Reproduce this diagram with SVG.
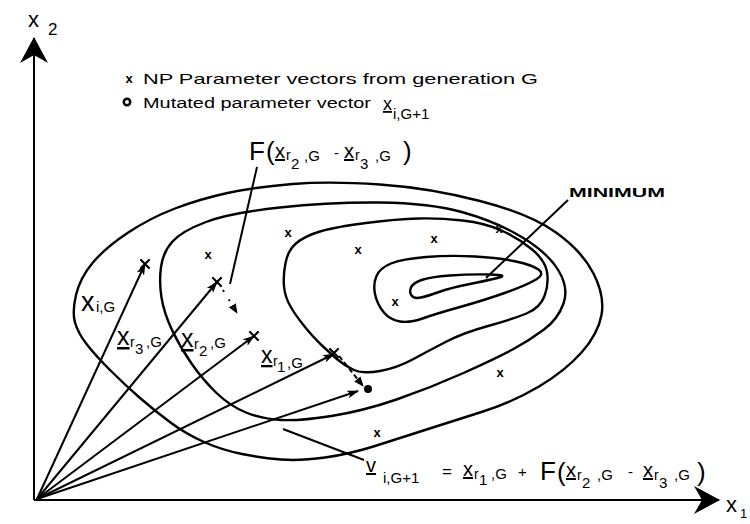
<svg xmlns="http://www.w3.org/2000/svg" width="750" height="524" viewBox="0 0 750 524">
<defs>
<style>
.t{font-family:"Liberation Sans",Arial,Helvetica,sans-serif;fill:#000}
.c{fill:none;stroke:#000;stroke-width:2.4;stroke-linejoin:round}
.v{fill:none;stroke:#000;stroke-width:2;marker-end:url(#ah)}
.l{fill:none;stroke:#000;stroke-width:2}
.k{fill:none;stroke:#000;stroke-width:2.2;stroke-linecap:round}
.m{font-family:"Liberation Sans",Arial,sans-serif;font-weight:bold;font-size:13px;text-anchor:middle;fill:#000}
.u{text-decoration:underline}
.b{font-size:26px}
.x{font-size:20px}
.r{font-size:14px}
.s{font-size:15px}
</style>
<marker id="ah" viewBox="0 0 12 8" refX="11" refY="4" markerWidth="12" markerHeight="8" markerUnits="userSpaceOnUse" orient="auto"><path d="M0,0 L12,4 L0,8 L3,4 z" fill="#000"/></marker>
<marker id="ahs" viewBox="0 0 10 8" refX="9" refY="4" markerWidth="10" markerHeight="8" markerUnits="userSpaceOnUse" orient="auto"><path d="M0,0 L10,4 L0,8 z" fill="#000"/></marker>
<marker id="big" viewBox="0 0 26 28" refX="25" refY="14" markerWidth="26" markerHeight="28" markerUnits="userSpaceOnUse" orient="auto"><path d="M0,0 L26,14 L0,28 L8,14 z" fill="#000"/></marker>
</defs>
<rect width="750" height="524" fill="#fff"/>

<g id="axes">
<path class="l" d="M34,500 L34,38" stroke-width="2.5" marker-end="url(#big)"/>
<path class="l" d="M34,500 L719,500" stroke-width="2.5" marker-end="url(#big)"/>
<text class="t"><tspan x="28" y="27" font-size="22">x</tspan><tspan x="48" y="35" font-size="17">2</tspan></text>
<text class="t"><tspan x="726" y="512" font-size="22">x</tspan><tspan x="740" y="518" font-size="13">1</tspan></text>
</g>

<g id="legend">
<text class="m" x="129" y="83" font-size="11">x</text>
<text class="t" x="143" y="84" font-size="15" textLength="395" lengthAdjust="spacingAndGlyphs">NP Parameter vectors from generation G</text>
<circle cx="127" cy="102" r="3.2" fill="none" stroke="#000" stroke-width="2.5"/>
<text class="t" x="143" y="108" font-size="14" textLength="228" lengthAdjust="spacingAndGlyphs">Mutated parameter vector</text>
<text class="t"><tspan class="u" x="383" y="110" font-size="18">x</tspan><tspan x="393" y="119" font-size="15">i,G+1</tspan></text>
</g>

<g id="contours">
<path id="c1" class="c" d="M76,295 Q80,278 92.5,263 Q105,248 127.5,233 Q150,218 175,208.5 Q200,199 227.5,193 Q255,187 292.5,184 Q330,181 380,184.5 Q430,188 480,201 Q530,214 556,232.5 Q582,251 593.5,273.5 Q605,296 601.5,315 Q598,334 581.5,352.5 Q565,371 539,386.5 Q513,402 481.5,412 Q450,422 425,430 Q400,438 375,446 Q350,454 325,457.5 Q300,461 281,459.5 Q262,458 242,454 Q222,450 204,442 Q186,434 170.5,422.5 Q155,411 140,398 Q125,385 110,370 Q95,355 86.5,344 Q78,333 75,322.5 Q72,312 76,295 Z"/>
<path id="c2" class="c" d="M161,267 Q163,252 172.5,241.5 Q182,231 206,222 Q230,213 280,207.5 Q330,202 380,202.5 Q430,203 463.5,212.5 Q497,222 522.5,237.5 Q548,253 558.5,270.5 Q569,288 563.5,303.5 Q558,319 544,329.5 Q530,340 513.5,349 Q497,358 463.5,373 Q430,388 396.5,399.5 Q363,411 331.5,416 Q300,421 281,420 Q262,419 246,412.5 Q230,406 216.5,393 Q203,380 191.5,363.5 Q180,347 172,330 Q164,313 161.5,297.5 Q159,282 161,267 Z"/>
<path id="c3" class="c" d="M285.5,263 Q288,250 296.5,243 Q305,236 320,231.5 Q335,227 366,223 Q397,219 418.5,218.5 Q440,218 462.5,220.5 Q485,223 501.5,230.5 Q518,238 531.5,249 Q545,260 547,272 Q549,284 544.5,296 Q540,308 526.5,313.5 Q513,319 488,326 Q463,333 446.5,341.5 Q430,350 413.5,359 Q397,368 380,371 Q363,374 354,370 Q345,366 337.5,359.5 Q330,353 322,345.5 Q314,338 305,327 Q296,316 290.5,306.5 Q285,297 284,286.5 Q283,276 285.5,263 Z"/>
<path id="c4" class="c" d="M376.5,276 Q380,268 391,263.5 Q402,259 426,257 Q450,255 475,256.5 Q500,258 516,261.5 Q532,265 538.5,269.5 Q545,274 536,279.5 Q527,285 506,292.5 Q485,300 460,307 Q435,314 422.5,318.5 Q410,323 400,321.5 Q390,320 383.5,312 Q377,304 375,294 Q373,284 376.5,276 Z"/>
<path id="c5" class="c" d="M411,287.5 Q413,283 421.5,280 Q430,277 450,275.5 Q470,274 490,274.5 Q510,275 497.5,278 Q485,281 467.5,284.5 Q450,288 439,292 Q428,296 421,297.5 Q414,299 411.5,295.5 Q409,292 411,287.5 Z"/>
</g>

<g id="points">
<text class="m" x="208" y="259">x</text>
<text class="m" x="288" y="237">x</text>
<text class="m" x="358" y="254">x</text>
<text class="m" x="434" y="243">x</text>
<text class="m" x="499" y="233">x</text>
<text class="m" x="395" y="306">x</text>
<text class="m" x="500" y="377">x</text>
<text class="m" x="377" y="437">x</text>
</g>

<g id="connectors">
<path class="v" d="M37,499 L145,264"/>
<path class="v" d="M37,499 L217,282"/>
<path class="v" d="M37,499 L254,336"/>
<path class="v" d="M37,499 L334,354"/>
<path class="v" d="M37,499 L358,391"/>
<path class="k" d="M141,260 L149,268 M149,260 L141,268"/>
<path class="k" d="M213,278 L221,286 M221,278 L213,286"/>
<path class="k" d="M250,332 L258,340 M258,332 L250,340"/>
<path class="k" d="M330,349 L338,357 M338,349 L330,357"/>
<path class="l" d="M223,290 L237,313" stroke-dasharray="2,9" stroke-width="2.2" marker-end="url(#ahs)"/>
<path class="l" d="M339,356 L363,386" stroke-dasharray="5,3" stroke-width="3" marker-end="url(#ahs)"/>
<circle cx="368" cy="389" r="4" fill="#000"/>
<path class="l" d="M257,167 L230,284"/>
<path class="l" d="M568,200 L486,278"/>
<path class="l" d="M283,429 L364,460"/>
</g>

<g id="label-min">
<text class="t" x="569" y="197" font-size="13" font-weight="bold" textLength="96" lengthAdjust="spacingAndGlyphs">MINIMUM</text>
</g>

<g id="label-xi">
<text class="t"><tspan x="81" y="311" font-size="27">x</tspan><tspan x="96" y="312" class="s">i,G</tspan></text>
</g>
<g id="label-xr3">
<text class="t"><tspan class="u" x="117" y="345" font-size="25">x</tspan><tspan class="r" x="130" y="347">r</tspan><tspan class="s" x="135" y="354">3</tspan><tspan class="s" x="146" y="347">,G</tspan></text>
</g>
<g id="label-xr2">
<text class="t"><tspan class="u" x="181" y="347" font-size="25">x</tspan><tspan class="r" x="194" y="349">r</tspan><tspan class="s" x="199" y="356">2</tspan><tspan class="s" x="210" y="348">,G</tspan></text>
</g>
<g id="label-xr1">
<text class="t"><tspan class="u" x="261" y="363" font-size="23">x</tspan><tspan class="r" x="273" y="366">r</tspan><tspan class="s" x="277" y="372">1</tspan><tspan class="s" x="287" y="368">,G</tspan></text>
</g>

<g id="label-F">
<text class="t"><tspan class="b" x="249" y="160">F</tspan><tspan class="b" x="266" y="160">(</tspan><tspan class="x u" x="275" y="158">x</tspan><tspan class="r" x="286" y="160">r</tspan><tspan class="s" x="291" y="169">2</tspan><tspan class="s" x="304" y="161">,G</tspan><tspan class="s" x="334" y="158">-</tspan><tspan class="x u" x="344" y="158">x</tspan><tspan class="r" x="355" y="160">r</tspan><tspan class="s" x="360" y="169">3</tspan><tspan class="s" x="375" y="161">,G</tspan><tspan class="b" x="403" y="160">)</tspan></text>
</g>

<g id="label-v">
<text class="t"><tspan class="x u" x="366" y="472">v</tspan><tspan class="s" x="383" y="483">i,G+1</tspan><tspan x="442" y="477" font-size="17">=</tspan><tspan class="x u" x="463" y="476">x</tspan><tspan class="r" x="474" y="479">r</tspan><tspan class="s" x="479" y="485">1</tspan><tspan class="s" x="491" y="479">,G</tspan><tspan class="s" x="518" y="477">+</tspan><tspan class="b" x="540" y="480">F</tspan><tspan class="b" x="557" y="481">(</tspan><tspan class="x u" x="566" y="477">x</tspan><tspan class="r" x="577" y="480">r</tspan><tspan class="s" x="582" y="488">2</tspan><tspan class="s" x="597" y="480">,G</tspan><tspan class="s" x="628" y="477">-</tspan><tspan class="x u" x="643" y="477">x</tspan><tspan class="r" x="654" y="480">r</tspan><tspan class="s" x="659" y="488">3</tspan><tspan class="s" x="674" y="480">,G</tspan><tspan class="b" x="697" y="481">)</tspan></text>
</g>
</svg>
